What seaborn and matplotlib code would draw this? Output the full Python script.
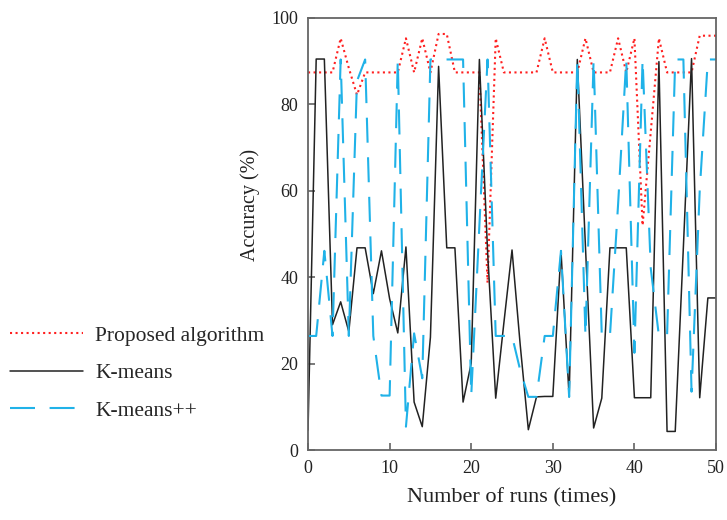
import numpy as np
import pandas as pd
import seaborn as sns
import matplotlib.pyplot as plt

# accuracy (%) per run
runs = list(range(0, 51))
proposed = [87.4, 87.4, 87.4, 87.4, 95.3, 88.4, 82.2, 87.4, 87.4, 87.4,
            87.4, 87.4, 95.3, 87.4, 95.3, 87.4, 96.3, 96.3, 87.4, 87.4,
            87.4, 87.4, 38.7, 95.3, 87.4, 87.4, 87.4, 87.4, 87.4, 95.3,
            87.4, 87.4, 87.4, 87.4, 95.3, 87.4, 87.4, 87.4, 95.3, 87.4,
            95.3, 52.0, 73.6, 95.3, 87.4, 87.4, 87.4, 87.4, 95.9, 95.9, 95.9]
kmeans = [4.6, 90.5, 90.5, 29.0, 34.3, 27.4, 46.8, 46.8, 36.2, 46.1,
          35.0, 27.1, 47.0, 11.1, 5.4, 26.1, 88.8, 46.8, 46.8, 11.1,
          20.1, 90.4, 46.1, 12.0, 29.4, 46.3, 24.4, 4.7, 12.3, 12.4,
          12.4, 46.1, 12.3, 90.4, 47.0, 5.1, 12.0, 46.8, 46.8, 46.8,
          12.1, 12.1, 12.1, 89.9, 4.3, 4.3, 47.0, 90.6, 12.1, 35.2, 35.2]
kmeanspp = [26.4, 26.4, 46.1, 26.4, 90.4, 26.4, 85.4, 90.4, 26.4, 12.6,
            12.6, 90.4, 5.4, 27.0, 16.6, 90.4, 90.4, 90.4, 90.4, 90.4,
            12.6, 52.0, 90.4, 26.4, 26.4, 26.4, 18.5, 12.3, 12.3, 26.4,
            26.4, 46.1, 12.3, 90.4, 26.4, 90.4, 26.4, 26.4, 56.9, 90.4,
            22.5, 90.4, 42.1, 26.4, 26.4, 90.4, 90.4, 13.5, 60.0, 90.4, 90.4]

labels = ['Proposed algorithm', 'K-means', 'K-means++']

sns.set_theme(style='ticks')
plt.rcParams['font.family'] = ['Liberation Serif', 'DejaVu Serif']

fig = plt.figure(figsize=(7.27, 5.2), dpi=100)
ax = fig.add_axes([0.4237, 0.1346, 0.5612, 0.8308])

sns.lineplot(x=runs, y=proposed, ax=ax, color='#ff2020', linestyle=':', linewidth=1.5,
             label=labels[0])
sns.lineplot(x=runs, y=kmeans, ax=ax, color='#222222', linestyle='-', linewidth=1.1,
             label=labels[1])
sns.lineplot(x=runs, y=kmeanspp, ax=ax, color='#20b2e8', linewidth=1.5,
             label=labels[2])
# long dashes for K-means++
ax.lines[2].set_dashes((12, 7))

ax.set_xlim(0, 50)
ax.set_ylim(0, 100)
ax.set_xticks([0, 10, 20, 30, 40, 50])
ax.set_yticks([0, 20, 40, 60, 80, 100])
ax.tick_params(direction='in', length=5, width=1.1, color='#555555',
               labelsize=13, labelcolor='#222222')
ax.tick_params(axis='y', pad=7)
ax.tick_params(axis='x', pad=7)
for s in ax.spines.values():
    s.set_visible(True)
    s.set_color('#666666')
    s.set_linewidth(1.3)

ax.set_xlabel('Number of runs (times)', fontsize=16, color='#222222', labelpad=8)
ax.set_ylabel('Accuracy (%)', fontsize=14.5, color='#222222')
ax.yaxis.set_label_coords(-0.118, 0.567)

handles, labs = ax.get_legend_handles_labels()
ax.get_legend().remove()
fig.legend(handles, labs, loc='upper left', bbox_to_anchor=(0.014, 0.374),
           frameon=False, fontsize=15.5, handlelength=3.4, handletextpad=0.55,
           labelspacing=0.82, borderpad=0, borderaxespad=0)

fig.savefig('out.png', dpi=100)
